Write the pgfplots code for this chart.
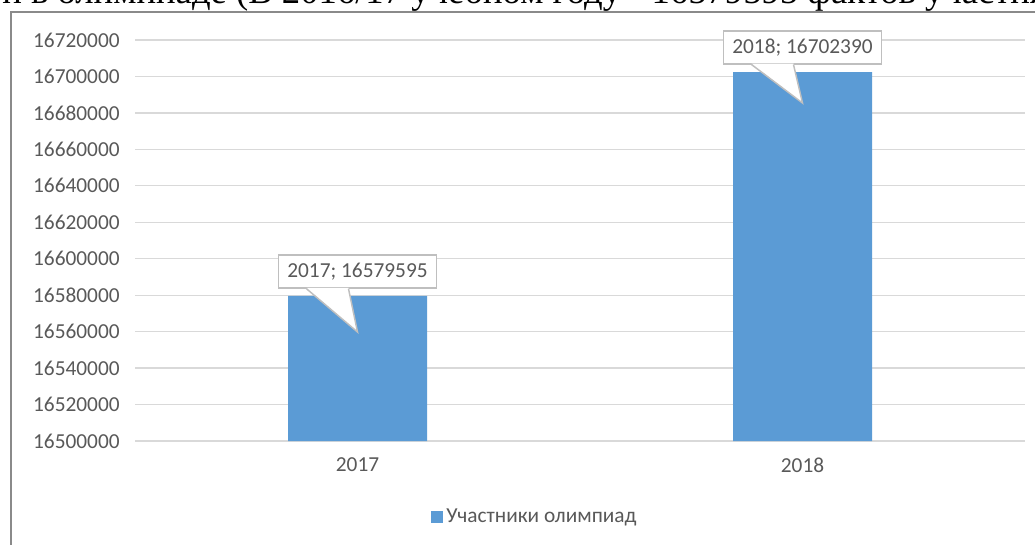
\documentclass[border=0pt]{standalone}
\usepackage{pgfplots}
\pgfplotsset{compat=1.18}
\usepackage{fontspec}
\setmainfont{Carlito}
\newfontfamily\seriffont{Liberation Serif}
\definecolor{barblue}{HTML}{5B9BD5}
\definecolor{txtgray}{HTML}{595959}
\definecolor{gridgray}{HTML}{D9D9D9}
\definecolor{boxgray}{HTML}{BFBFBF}
\definecolor{framegray}{HTML}{8A8A8A}
\begin{document}
\begin{tikzpicture}
\useasboundingbox (0,0) rectangle (776.25pt,408pt);
\clip (0,0) rectangle (776.25pt,408pt);
% cropped text of the page above the chart
\node[anchor=base west, inner sep=0pt, font=\seriffont\fontsize{27.5}{31}\selectfont] at (1.5pt,405.5pt)
  {и в олимпиаде (В 2016/17 учебном году - 16579595 фактов участия};
% chart frame
\fill[white] (7.9pt,-5pt) rectangle (800pt,399pt);
\draw[framegray, line width=1.5pt] (7.9pt,-5pt) -- (7.9pt,399pt) -- (800pt,399pt);
\begin{axis}[
  at={(101.25pt,77.25pt)}, anchor=south west,
  scale only axis, width=667.5pt, height=300.75pt,
  clip mode=individual,
  xmin=-0.5, xmax=1.5,
  ymin=16500000, ymax=16720000,
  ytick distance=20000,
  scaled y ticks=false,
  xtick={0,1}, xticklabels={2017,2018},
  axis line style={draw=none},
  major tick length=0pt,
  ymajorgrids, grid style={gridgray, line width=0.9pt},
  tick label style={font=\fontsize{16}{19}\selectfont, text=txtgray},
  yticklabel style={xshift=-8pt},
  xticklabel style={yshift=-9pt},
  /pgf/number format/.cd, fixed, precision=0, 1000 sep={}, assume math mode=true,
  /pgfplots/.cd,
  legend style={at={(0.45,-0.1895)}, anchor=center, draw=none, fill=none,
    font=\fontsize{16}{19}\selectfont, text=txtgray,
    nodes={inner xsep=2.5pt}},
  legend image code/.code={\fill[#1] (0pt,-4.5pt) rectangle (9pt,4.5pt);},
]
\addplot[ybar, bar width=104.25pt, fill=barblue, draw=none] coordinates {(0,16579595) (1,16702390)};
\addlegendentry{Участники олимпиад}
% callouts
\node[draw=boxgray, line width=1.1pt, fill=white, minimum width=118.5pt, minimum height=24.75pt,
  inner sep=0pt, font=\fontsize{16}{19}\selectfont, text=txtgray] (c1) at (axis cs:0,16592990) {2017; 16579595};
\fill[white] ([xshift=-38.25pt,yshift=0.6pt]c1.south) -- (axis cs:0,16559800) -- ([xshift=-6.75pt,yshift=0.6pt]c1.south) -- cycle;
\draw[boxgray, line width=1.1pt] ([xshift=-38.25pt]c1.south) -- (axis cs:0,16559800) -- ([xshift=-6.75pt]c1.south);
\node[draw=boxgray, line width=1.1pt, fill=white, minimum width=118.5pt, minimum height=24.75pt,
  inner sep=0pt, font=\fontsize{16}{19}\selectfont, text=txtgray] (c2) at (axis cs:1,16716000) {2018; 16702390};
\fill[white] ([xshift=-38.25pt,yshift=0.6pt]c2.south) -- (axis cs:1,16685430) -- ([xshift=-6.75pt,yshift=0.6pt]c2.south) -- cycle;
\draw[boxgray, line width=1.1pt] ([xshift=-38.25pt]c2.south) -- (axis cs:1,16685430) -- ([xshift=-6.75pt]c2.south);
\end{axis}
\end{tikzpicture}
\end{document}
